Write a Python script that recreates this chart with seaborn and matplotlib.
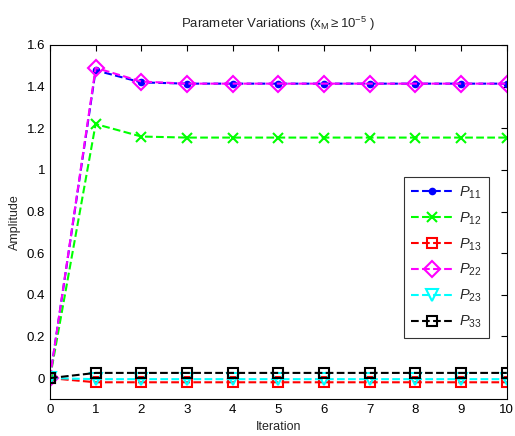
import numpy as np
import pandas as pd
import matplotlib
matplotlib.use("Agg")
import matplotlib.pyplot as plt
import seaborn as sns

iterations = list(range(11))
p11 = [0.0, 1.478, 1.420, 1.414, 1.414, 1.414, 1.414, 1.414, 1.414, 1.414, 1.414]
p12 = [0.0, 1.220, 1.160, 1.155, 1.155, 1.155, 1.155, 1.155, 1.155, 1.155, 1.155]
p13 = [0.0, -0.020, -0.020, -0.020, -0.020, -0.020, -0.020, -0.020, -0.020, -0.020, -0.020]
p22 = [0.0, 1.490, 1.424, 1.414, 1.414, 1.414, 1.414, 1.414, 1.414, 1.414, 1.414]
p23 = [0.0, -0.005, -0.005, -0.005, -0.005, -0.005, -0.005, -0.005, -0.005, -0.005, -0.005]
p33 = [0.0, 0.025, 0.025, 0.025, 0.025, 0.025, 0.025, 0.025, 0.025, 0.025, 0.025]
series_names = [r"$\mathit{P}_{\mathit{11}}$", r"$\mathit{P}_{\mathit{12}}$", r"$\mathit{P}_{\mathit{13}}$",
                r"$\mathit{P}_{\mathit{22}}$", r"$\mathit{P}_{\mathit{23}}$", r"$\mathit{P}_{\mathit{33}}$"]
series_values = [p11, p12, p13, p22, p23, p33]

sns.set_style("white")
plt.rcParams['font.family'] = ['Liberation Sans', 'DejaVu Sans']
plt.rcParams['mathtext.fontset'] = 'custom'
plt.rcParams['mathtext.rm'] = 'Liberation Sans'
plt.rcParams['mathtext.it'] = 'Liberation Sans:italic'

styles = [
    dict(color='#0000ff', marker='o', ms=4, mfc='#0000ff'),
    dict(color='#00ff00', marker='x', ms=7, mfc='none'),
    dict(color='#ff0000', marker='s', ms=7.5, mfc='none'),
    dict(color='#ff00ff', marker='D', ms=8, mfc='none'),
    dict(color='#00ffff', marker='v', ms=8.5, mfc='none'),
    dict(color='#000000', marker='s', ms=7.5, mfc='none'),
]

fig = plt.figure(figsize=(5.15, 4.36), dpi=100)
ax = fig.add_axes([0.097, 0.085, 0.887, 0.812])

for name, vals, st in zip(series_names, series_values, styles):
    df = pd.DataFrame({"Iteration": iterations, "Amplitude": vals})
    sns.lineplot(data=df, x="Iteration", y="Amplitude", ax=ax, label=name,
                 color=st['color'], linestyle='--', linewidth=1.5,
                 marker=st['marker'], markersize=st['ms'],
                 markerfacecolor=st['mfc'], markeredgecolor=st['color'],
                 markeredgewidth=1.5)

ax.set_xlim(0, 10)
ax.set_ylim(-0.1, 1.6)
ax.set_xticks(range(11))
ax.set_yticks([0, 0.2, 0.4, 0.6, 0.8, 1.0, 1.2, 1.4, 1.6])
ax.set_yticklabels(['0', '0.2', '0.4', '0.6', '0.8', '1', '1.2', '1.4', '1.6'])
ax.tick_params(direction='in', length=4, top=True, right=True, labelsize=9.5, colors='black')
for s in ax.spines.values():
    s.set_color('black')
    s.set_linewidth(0.8)
ax.set_xlabel("Iteration", fontsize=9)
ax.set_ylabel("Amplitude", fontsize=9)
ax.set_title(r"Parameter Variations ($\mathrm{x_M} \geq 10^{-5}$ )", fontsize=9.5, pad=12)

leg = ax.legend(loc='center right', bbox_to_anchor=(0.978, 0.40), fontsize=10.5,
                frameon=True, fancybox=False, edgecolor='black', handlelength=2.8,
                handletextpad=0.5, labelspacing=0.65, borderpad=0.5)
leg.get_frame().set_linewidth(0.8)

fig.savefig("out.png", dpi=100)
